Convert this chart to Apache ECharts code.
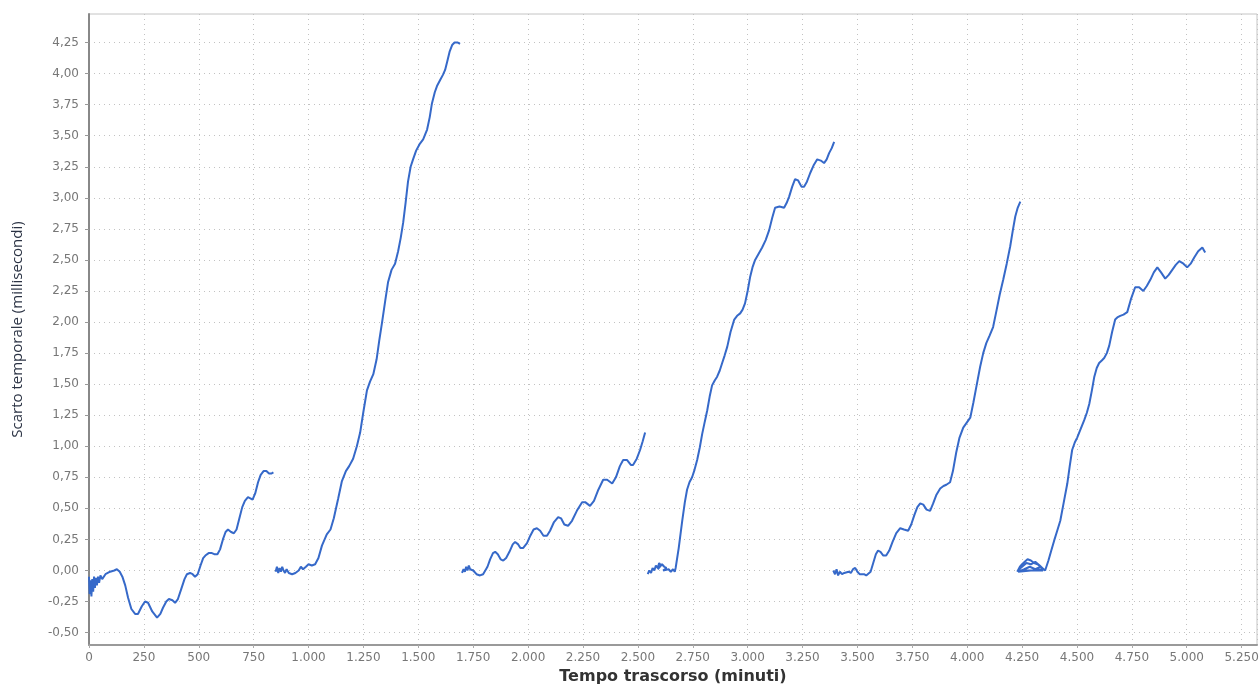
<!DOCTYPE html>
<html>
<head>
<meta charset="utf-8">
<script src="https://cdn.jsdelivr.net/npm/echarts@6/dist/echarts.min.js"></script>
<style>
html,body{margin:0;padding:0;background:#fff;}
#chart{width:1259px;height:684px;}
</style>
</head>
<body>
<div id="chart"></div>
<script>
// Tick values
const yTicks = [-0.5,-0.25,0,0.25,0.5,0.75,1,1.25,1.5,1.75,2,2.25,2.5,2.75,3,3.25,3.5,3.75,4,4.25];
const xMin = 0, xMax = 5320, xStep = 250;
const yMin = -0.6, yMax = 4.48;

// Six runs: [minutes, milliseconds]
const run1 = [[0,-0.05],[3,-0.19],[7,-0.08],[11,-0.21],[15,-0.07],[19,-0.17],[23,-0.05],[27,-0.14],[31,-0.06],[36,-0.12],[41,-0.05],[46,-0.10],[52,-0.04],[60,-0.07],[75,-0.03],[96,-0.01],[115,0.0],[127,0.01],[140,-0.01],[152,-0.05],[165,-0.12],[178,-0.22],[193,-0.31],[210,-0.35],[223,-0.35],[240,-0.29],[255,-0.25],[269,-0.26],[288,-0.33],[310,-0.38],[325,-0.35],[337,-0.30],[352,-0.25],[364,-0.23],[380,-0.24],[392,-0.26],[405,-0.23],[420,-0.15],[435,-0.07],[446,-0.03],[460,-0.02],[472,-0.03],[483,-0.05],[495,-0.03],[508,0.04],[520,0.10],[530,0.12],[545,0.14],[560,0.14],[573,0.13],[585,0.13],[597,0.17],[610,0.25],[622,0.31],[633,0.33],[647,0.31],[660,0.30],[672,0.33],[685,0.42],[698,0.51],[710,0.56],[724,0.59],[735,0.58],[745,0.57],[757,0.62],[770,0.71],[782,0.77],[795,0.80],[808,0.80],[820,0.78],[830,0.78],[840,0.79]];
const run2 = [[850,-0.01],[856,0.03],[862,-0.02],[868,0.02],[874,-0.01],[880,0.03],[886,0.0],[893,-0.02],[900,0.01],[910,-0.02],[925,-0.03],[940,-0.02],[955,0.0],[965,0.03],[975,0.01],[988,0.03],[1000,0.05],[1015,0.04],[1030,0.05],[1045,0.10],[1061,0.20],[1083,0.29],[1100,0.33],[1115,0.42],[1135,0.58],[1152,0.72],[1170,0.80],[1185,0.84],[1203,0.90],[1220,1.0],[1235,1.11],[1250,1.28],[1266,1.45],[1280,1.52],[1295,1.58],[1310,1.70],[1322,1.85],[1335,2.0],[1350,2.18],[1362,2.32],[1378,2.42],[1394,2.47],[1408,2.57],[1420,2.68],[1431,2.80],[1442,2.96],[1453,3.13],[1465,3.25],[1476,3.31],[1490,3.38],[1505,3.43],[1522,3.47],[1540,3.55],[1552,3.65],[1562,3.76],[1575,3.85],[1585,3.90],[1600,3.95],[1612,3.99],[1622,4.03],[1632,4.10],[1643,4.18],[1654,4.23],[1665,4.25],[1680,4.25],[1690,4.24]];
const run3 = [[1699,-0.02],[1706,0.01],[1712,-0.01],[1718,0.03],[1724,0.0],[1730,0.04],[1736,0.01],[1742,0.02],[1750,0.0],[1765,-0.03],[1781,-0.04],[1795,-0.03],[1804,-0.02],[1815,0.03],[1827,0.09],[1840,0.14],[1850,0.15],[1862,0.13],[1875,0.09],[1887,0.08],[1900,0.10],[1915,0.15],[1930,0.21],[1941,0.23],[1955,0.21],[1965,0.18],[1977,0.18],[1995,0.22],[2010,0.28],[2025,0.33],[2040,0.34],[2055,0.32],[2070,0.28],[2086,0.28],[2100,0.32],[2118,0.39],[2137,0.43],[2150,0.42],[2165,0.37],[2182,0.36],[2200,0.40],[2222,0.48],[2246,0.55],[2260,0.55],[2282,0.52],[2300,0.56],[2320,0.65],[2342,0.73],[2360,0.73],[2383,0.70],[2400,0.75],[2418,0.84],[2433,0.89],[2450,0.89],[2468,0.85],[2478,0.85],[2495,0.90],[2510,0.97],[2522,1.04],[2533,1.11]];
const run4 = [[2545,-0.03],[2552,0.0],[2560,-0.02],[2567,0.02],[2575,0.0],[2582,0.04],[2590,0.02],[2597,0.06],[2605,0.04],[2590,0.01],[2610,0.05],[2620,0.03],[2630,0.02],[2615,0.0],[2640,0.01],[2650,-0.01],[2660,0.01],[2668,-0.01],[2672,0.02],[2686,0.18],[2702,0.40],[2714,0.55],[2724,0.65],[2735,0.71],[2747,0.75],[2758,0.81],[2770,0.89],[2782,0.99],[2793,1.10],[2805,1.20],[2816,1.29],[2827,1.40],[2838,1.49],[2850,1.53],[2861,1.56],[2873,1.61],[2884,1.67],[2895,1.73],[2907,1.80],[2922,1.92],[2939,2.02],[2952,2.05],[2966,2.07],[2977,2.10],[2988,2.15],[3000,2.25],[3011,2.36],[3022,2.44],[3034,2.50],[3050,2.55],[3066,2.60],[3082,2.66],[3098,2.74],[3112,2.84],[3125,2.92],[3145,2.93],[3166,2.92],[3178,2.96],[3189,3.01],[3203,3.09],[3216,3.15],[3230,3.14],[3245,3.09],[3257,3.09],[3270,3.13],[3285,3.20],[3300,3.26],[3317,3.31],[3333,3.30],[3348,3.28],[3360,3.31],[3371,3.36],[3383,3.40],[3394,3.45]];
const run5 = [[3390,0.0],[3398,-0.03],[3405,0.01],[3412,-0.04],[3420,-0.01],[3430,-0.03],[3440,-0.02],[3449,-0.03],[3460,-0.01],[3470,-0.02],[3480,0.01],[3490,0.02],[3500,-0.01],[3510,-0.03],[3517,-0.04],[3530,-0.03],[3540,-0.04],[3549,-0.04],[3560,-0.01],[3572,0.06],[3584,0.13],[3594,0.16],[3605,0.15],[3618,0.12],[3631,0.12],[3645,0.16],[3660,0.23],[3677,0.30],[3695,0.34],[3712,0.33],[3731,0.32],[3745,0.37],[3760,0.45],[3773,0.51],[3786,0.54],[3800,0.53],[3815,0.49],[3831,0.48],[3845,0.54],[3860,0.61],[3877,0.66],[3892,0.68],[3905,0.69],[3922,0.71],[3935,0.80],[3950,0.95],[3965,1.07],[3982,1.15],[3998,1.19],[4014,1.23],[4028,1.35],[4044,1.50],[4059,1.64],[4073,1.75],[4087,1.83],[4102,1.89],[4118,1.96],[4132,2.08],[4148,2.22],[4164,2.34],[4180,2.47],[4196,2.61],[4208,2.74],[4219,2.85],[4230,2.92],[4242,2.97]];
const run6 = [[4228,-0.01],[4240,0.03],[4250,0.05],[4262,0.07],[4275,0.09],[4290,0.08],[4305,0.06],[4320,0.05],[4335,0.03],[4345,0.0],[4230,0.0],[4250,0.03],[4270,0.06],[4290,0.05],[4310,0.07],[4330,0.04],[4348,0.01],[4232,-0.01],[4260,0.01],[4285,0.03],[4310,0.01],[4335,0.03],[4355,0.0],[4370,0.08],[4383,0.16],[4396,0.24],[4410,0.32],[4424,0.40],[4440,0.55],[4456,0.70],[4467,0.84],[4478,0.97],[4490,1.03],[4501,1.07],[4517,1.14],[4533,1.21],[4545,1.27],[4556,1.34],[4568,1.45],[4579,1.56],[4590,1.63],[4601,1.67],[4613,1.69],[4624,1.71],[4636,1.75],[4647,1.81],[4660,1.92],[4674,2.02],[4686,2.04],[4697,2.05],[4712,2.06],[4729,2.08],[4745,2.18],[4765,2.28],[4783,2.28],[4802,2.25],[4818,2.29],[4834,2.34],[4850,2.40],[4866,2.44],[4883,2.40],[4902,2.35],[4918,2.38],[4934,2.42],[4950,2.46],[4966,2.49],[4985,2.47],[5002,2.44],[5018,2.47],[5034,2.52],[5052,2.57],[5071,2.60],[5084,2.56]];

const runs = [run1, run2, run3, run4, run5, run6];
const lineColor = '#3669c9';

function fmtX(v){ return String(Math.round(v)).replace(/\B(?=(\d{3})+(?!\d))/g, '.'); }
function fmtY(v){ return v.toFixed(2).replace('.', ','); }

const chart = echarts.init(document.getElementById('chart'), null, {renderer:'canvas'});
chart.setOption({
  backgroundColor: '#ffffff',
  animation: false,
  grid: {left: 89, right: 2, top: 14, bottom: 39, show: true, borderColor: '#c4c4c4', borderWidth: 1, outerBoundsMode: 'none'},
  xAxis: {
    type: 'value', min: xMin, max: xMax, interval: xStep,
    name: 'Tempo trascorso (minuti)', nameLocation: 'middle', nameGap: 23,
    nameTextStyle: {fontFamily: 'DejaVu Sans', fontWeight: 'bold', fontSize: 16, color: '#333'},
    axisLine: {show: true, onZero: false, lineStyle: {color: '#9a9a9a', width: 2}},
    axisTick: {show: true, length: 3, lineStyle: {color: '#aaa'}},
    axisLabel: {formatter: fmtX, fontFamily: 'DejaVu Sans', fontSize: 12, color: '#777', margin: 7},
    splitLine: {show: true, lineStyle: {color: '#c2c2c2', type: [1, 4], width: 1}}
  },
  yAxis: {
    type: 'value', min: yMin, max: yMax,
    name: 'Scarto temporale (millisecondi)', nameLocation: 'middle', nameGap: 64,
    nameTextStyle: {fontFamily: 'Open Sans', fontSize: 15, color: '#2b3344'},
    axisLine: {show: true, onZero: false, lineStyle: {color: '#888', width: 2}},
    axisTick: {show: true, length: 4, customValues: yTicks, lineStyle: {color: '#999'}},
    axisLabel: {customValues: yTicks, formatter: fmtY, fontFamily: 'DejaVu Sans', fontSize: 12, color: '#777', margin: 10},
    splitLine: {show: true, lineStyle: {color: '#c2c2c2', type: [1, 4], width: 1}}
  },
  series: runs.map((r, i) => ({
    type: 'line', name: 'run' + (i + 1), data: r, showSymbol: false, smooth: false,
    lineStyle: {color: lineColor, width: 2}, itemStyle: {color: lineColor}
  }))
});
</script>
</body>
</html>
